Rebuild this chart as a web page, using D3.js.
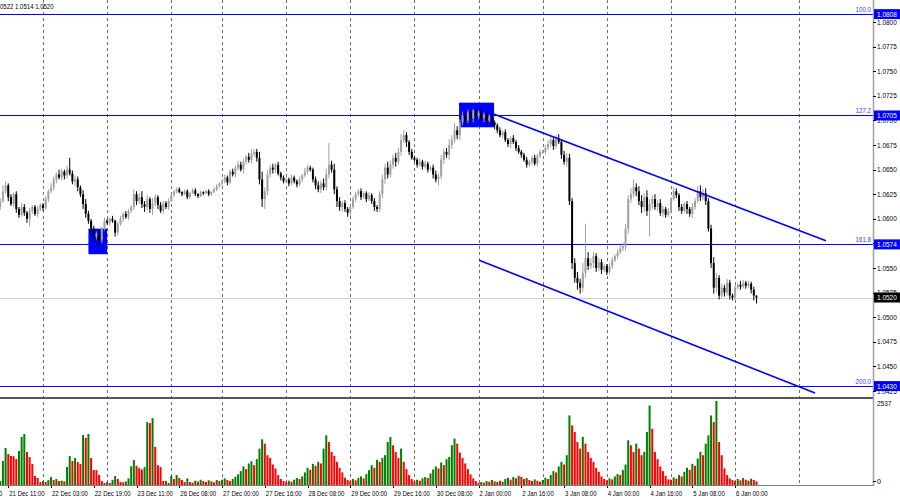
<!DOCTYPE html>
<html><head><meta charset="utf-8">
<script src="https://cdn.jsdelivr.net/npm/d3@7"></script>
<style>body{margin:0;background:#fff}svg{display:block}text{font-family:"Liberation Sans",Arial,sans-serif}</style>
</head><body><svg id="c" width="900" height="500"></svg>
<script>
// EURUSD H1, 21 Dec 08:00 -> 6 Jan 08:00 (bar index 0..283)
const closes = [
1.0618,1.0628,1.0634,1.0622,1.0615,1.0625,1.0610,1.0604,1.0612,1.0606,1.0600,1.0608,1.0612,1.0605,1.0610,1.0614,
1.0611,1.0620,1.0628,1.0632,1.0640,1.0645,1.0642,1.0648,1.0644,1.0650,1.0646,1.0638,1.0640,1.0632,1.0625,1.0615,1.0605,1.0598,1.0590,1.0582,1.0585,1.0578,1.0590,1.0598,
1.0596,1.0600,1.0598,1.0586,1.0595,1.0600,1.0605,1.0602,1.0608,1.0612,1.0625,1.0618,1.0622,1.0615,1.0612,1.0620,1.0610,1.0616,1.0622,1.0614,1.0608,1.0616,1.0612,1.0618,
1.0624,1.0628,1.0630,1.0627,1.0625,1.0628,1.0622,1.0626,1.0629,1.0625,1.0623,1.0627,1.0626,1.0628,1.0625,1.0627,1.0630,1.0633,1.0636,
1.0638,1.0642,1.0637,1.0648,1.0645,1.0652,1.0655,1.0650,1.0658,1.0663,1.0660,1.0666,1.0668,1.0662,1.0640,1.0620,1.0628,1.0645,1.0652,1.0650,1.0655,1.0646,1.0642,1.0638,
1.0640,1.0636,1.0642,1.0638,1.0635,1.0640,1.0644,1.0648,1.0652,1.0650,1.0640,1.0634,1.0630,1.0636,1.0632,1.0645,1.0655,1.0650,1.0630,1.0618,1.0612,1.0616,1.0610,1.0606,
1.0612,1.0620,1.0625,1.0628,1.0622,1.0626,1.0620,1.0624,1.0618,1.0612,1.0610,1.0625,1.0640,1.0652,1.0645,1.0655,1.0662,1.0658,1.0668,1.0680,1.0685,1.0678,1.0668,1.0662,
1.0660,1.0655,1.0658,1.0653,1.0656,1.0650,1.0652,1.0645,1.0640,1.0643,1.0660,1.0668,1.0665,1.0675,1.0680,1.0690,1.0685,1.0698,1.0705,1.0700,1.0708,1.0702,1.0710,1.0704,
1.0708,1.0702,1.0706,1.0700,1.0704,1.0698,1.0695,1.0690,1.0685,1.0688,1.0680,1.0676,1.0682,1.0678,1.0672,1.0668,1.0665,1.0660,1.0655,1.0658,1.0662,1.0656,1.0664,1.0668,
1.0668,1.0672,1.0676,1.0680,1.0674,1.0682,1.0678,1.0665,1.0658,1.0662,1.0618,1.0555,1.0540,1.0535,1.0530,1.0545,1.0560,1.0552,1.0555,1.0562,1.0550,1.0556,1.0548,1.0552,
1.0546,1.0552,1.0558,1.0562,1.0566,1.0570,1.0572,1.0590,1.0620,1.0625,1.0632,1.0628,1.0618,1.0612,1.0622,1.0608,1.0615,1.0620,1.0612,1.0616,1.0606,1.0610,1.0604,1.0608,
1.0620,1.0628,1.0624,1.0612,1.0608,1.0615,1.0610,1.0605,1.0612,1.0618,1.0628,1.0622,1.0626,1.0618,1.0590,1.0555,1.0530,1.0540,1.0522,1.0530,1.0525,1.0535,1.0522,1.0520,
1.0530,1.0533,1.0531,1.0535,1.0532,1.0534,1.0528,1.0522,1.0520];
const firstOpen = 1.0612;
// wick lengths in pips above / below the body
const wickUp = [
3,6,4,2,3,2,3,2,4,3,2,3,2,2,3,2,
2,3,2,4,3,2,5,3,2,4,12,3,4,3,2,4,5,3,2,3,2,4,2,3,
2,2,3,1,2,3,2,3,2,2,5,3,4,6,3,4,2,5,3,2,3,2,2,3,
2,1,2,2,1,2,2,1,2,2,1,2,1,2,2,1,2,2,1,
2,3,2,2,3,2,4,3,3,2,4,5,3,3,6,8,4,5,3,4,2,3,2,2,
2,2,3,2,2,3,2,4,3,2,2,3,4,3,5,6,22,4,6,3,4,2,3,2,
2,3,2,2,3,2,2,3,2,3,2,3,5,4,6,4,3,5,4,6,5,3,2,3,
2,2,3,2,3,2,2,3,4,3,5,3,4,6,5,7,4,3,4,3,3,2,2,3,
2,3,2,3,2,3,2,2,3,2,3,2,2,3,2,3,2,2,3,2,2,3,2,2,
2,3,4,3,2,3,4,3,4,5,4,3,5,6,4,10,35,6,5,4,3,4,3,2,
2,3,3,2,3,3,4,5,4,6,8,4,5,6,4,7,5,4,5,3,4,3,2,3,
2,4,3,2,3,2,3,2,4,3,5,6,4,5,3,4,6,5,3,4,3,4,3,2,
3,2,4,3,2,3,2,3,0];
const wickDn = [
3,2,3,4,2,3,4,3,2,3,4,8,3,2,3,2,
3,2,3,2,3,4,2,3,4,3,2,3,5,4,3,5,4,3,4,5,3,5,3,2,
2,3,2,4,3,2,3,2,3,2,3,4,3,4,5,3,4,6,3,4,2,3,2,3,
1,2,2,1,2,1,2,2,1,2,2,1,2,1,2,2,1,2,1,
2,2,3,2,2,3,3,2,4,3,3,4,3,4,5,8,10,4,3,4,3,2,3,2,
2,3,2,2,3,2,3,2,3,2,3,4,3,4,3,3,4,3,5,6,4,5,3,4,
3,2,3,2,3,2,3,2,3,4,3,3,4,5,4,3,4,5,3,4,3,5,3,2,
2,3,2,3,2,3,2,4,3,6,3,4,3,5,4,3,4,5,3,4,3,5,4,3,
3,2,4,3,2,3,4,3,2,3,2,3,4,2,3,2,3,2,3,2,3,2,3,2,
2,3,2,3,4,3,2,4,3,5,4,6,5,7,6,4,5,4,3,5,4,3,4,2,
3,2,3,2,3,2,3,4,5,4,3,5,4,6,5,5,26,5,3,4,3,4,3,2,
3,2,3,4,3,2,5,3,4,3,2,4,3,4,3,5,6,5,4,3,4,3,4,3,
3,2,3,2,3,2,4,5,6];
const volumes = [
120,725,1117,936,876,870,785,1027,1450,1540,997,845,634,272,211,90,
120,90,150,240,150,180,120,130,110,543,876,725,815,694,634,1510,1420,1540,815,453,450,302,120,60,
90,60,150,270,180,90,80,110,200,566,750,580,510,470,540,1900,1870,2020,1150,600,540,120,125,60,
280,180,300,210,150,90,200,90,70,130,100,160,120,90,140,110,80,150,120,
160,200,150,120,180,250,320,420,560,480,650,720,600,780,1100,1380,1250,900,820,620,500,300,180,120,
90,130,100,160,210,180,260,380,520,460,640,580,700,650,1100,1500,1300,1000,880,700,520,380,220,150,
120,180,140,210,260,200,330,450,600,520,760,700,820,900,1300,1450,1200,1000,820,1100,700,480,300,180,
110,160,130,200,240,210,350,470,560,500,680,600,780,850,1200,1400,1250,980,820,650,480,320,200,120,
60,90,70,120,100,150,110,90,130,100,180,220,160,240,200,280,250,180,210,150,120,170,130,100,
150,220,180,300,420,380,560,700,620,900,2100,1800,1600,1300,1100,1450,1250,1000,820,700,520,400,260,180,
140,200,170,260,330,300,450,620,1350,1200,1000,1250,1100,900,1000,1600,2400,1700,1000,780,560,420,280,170,
160,230,190,300,260,400,520,460,640,580,800,1000,900,1250,1500,2100,1900,2537,1300,900,500,300,200,150,
120,180,140,210,160,130,190,150,110];
const timeLabels = ["20 Dec 19:00","21 Dec 11:00","22 Dec 03:00","22 Dec 19:00","23 Dec 11:00","26 Dec 08:00","27 Dec 00:00","27 Dec 16:00","28 Dec 08:00","29 Dec 00:00","29 Dec 16:00","30 Dec 08:00","2 Jan 00:00","2 Jan 16:00","3 Jan 08:00","4 Jan 00:00","4 Jan 16:00","5 Jan 08:00","6 Jan 00:00"];
const timeLabelBars = [-13,3,19,35,51,67,83,99,115,131,147,163,179,195,211,227,243,259,275];
const dayStartBars = [16,40,64,83,107,131,155,179,203,227,251,275,299];
const priceTicks = [1.0800,1.0775,1.0750,1.0725,1.0700,1.0675,1.0650,1.0625,1.0600,1.0575,1.0550,1.0525,1.0500,1.0475,1.0450,1.0425];
const levelPrices = [1.0808,1.0705,1.0574,1.0430];
const levelNames = ["100.0","127.2","161.8","200.0"];
const lastPrice = 1.0520;
const volMax = 2537;
const boxBars = [[33,40],[171.7,184.8]];
const boxPrices = [[1.0564,1.0590],[1.0693,1.0718]];
const trendBars = [[184.4,309.0],[179.2,304.9]];
const trendPrices = [[1.07067,1.05776],[1.05579,1.04230]];
const headerText = "0522 1.0514 1.0520";

const svg = d3.select("#c");
const W = 873, mainBottom = 397, volTop = 400, volBottom = 485;
const x = d3.scaleLinear().domain([0, 326.6]).range([0.25, 873]);
const y = d3.scaleLinear().domain([1.0800, 1.0425]).range([22, 391]);
const yv = d3.scaleLinear().domain([0, volMax]).range([volBottom, 401]);
const BLUE = "#0000ff";
const FONT = "7.2px";

function narrow(sel, f){
  sel.each(function(){
    const w = this.getComputedTextLength();
    if (w > 0) { this.setAttribute("textLength", (w*f).toFixed(2)); this.setAttribute("lengthAdjust","spacingAndGlyphs"); }
  });
}

const defs = svg.append("defs");
defs.append("clipPath").attr("id","cm").append("rect").attr("x",0).attr("y",0).attr("width",W).attr("height",mainBottom);
defs.append("clipPath").attr("id","cv").append("rect").attr("x",0).attr("y",volTop).attr("width",W).attr("height",volBottom-volTop);
defs.append("clipPath").attr("id","ct").append("rect").attr("x",0).attr("y",486).attr("width",900).attr("height",14);

// grid
svg.append("g").selectAll("line").data(dayStartBars).join("line")
  .attr("x1",d=>Math.round(x(d))+0.5).attr("x2",d=>Math.round(x(d))+0.5)
  .attr("y1",0).attr("y2",volBottom)
  .attr("stroke","#6e6e6e").attr("stroke-width",1).attr("stroke-dasharray","3,3");

const gm = svg.append("g").attr("clip-path","url(#cm)");
// rectangles
gm.selectAll("rect.box").data(boxBars).join("rect").attr("class","box")
  .attr("x",(d)=>x(d[0])).attr("width",d=>x(d[1])-x(d[0]))
  .attr("y",(d,i)=>y(boxPrices[i][1])).attr("height",(d,i)=>y(boxPrices[i][0])-y(boxPrices[i][1]))
  .attr("fill",BLUE);
// current price line
gm.append("line").attr("x1",0).attr("x2",W).attr("y1",Math.round(y(lastPrice))+0.5).attr("y2",Math.round(y(lastPrice))+0.5)
  .attr("stroke","#d0d0d0").attr("stroke-width",1);
// levels
gm.selectAll("line.lv").data(levelPrices).join("line").attr("class","lv")
  .attr("x1",0).attr("x2",W).attr("y1",d=>Math.round(y(d))+0.5).attr("y2",d=>Math.round(y(d))+0.5)
  .attr("stroke",BLUE).attr("stroke-width",1.2);
const lvText = gm.selectAll("text.lv").data(levelPrices).join("text").attr("class","lv")
  .attr("x",871).attr("y",d=>y(d)-2).attr("text-anchor","end")
  .attr("font-size","7px").attr("fill","#3a3aff").text((d,i)=>levelNames[i]);

// candles
const opens = closes.map((c,i)=> i===0 ? firstOpen : closes[i-1]);
const candles = closes.map((c,i)=>{
  const o = opens[i];
  return {i, o, c, h: Math.max(o,c)+wickUp[i]*0.0001, l: Math.min(o,c)-wickDn[i]*0.0001, up: c>=o};
});
const gc = gm.append("g");
gc.selectAll("line").data(candles).join("line")
  .attr("x1",d=>x(d.i)).attr("x2",d=>x(d.i)).attr("y1",d=>y(d.h)).attr("y2",d=>y(d.l))
  .attr("stroke",d=>d.up?"#a0a0a0":"#000").attr("stroke-width",1);
gc.selectAll("rect").data(candles).join("rect")
  .attr("x",d=>x(d.i)-1).attr("width",2)
  .attr("y",d=>y(Math.max(d.o,d.c))).attr("height",d=>Math.max(1,y(Math.min(d.o,d.c))-y(Math.max(d.o,d.c))))
  .attr("fill",d=>d.up?"#a0a0a0":"#000");

// trend lines
gm.selectAll("line.tr").data(trendBars).join("line").attr("class","tr")
  .attr("x1",d=>x(d[0])).attr("x2",d=>x(d[1]))
  .attr("y1",(d,i)=>y(trendPrices[i][0])).attr("y2",(d,i)=>y(trendPrices[i][1]))
  .attr("stroke",BLUE).attr("stroke-width",1.6);

// separator between panels
svg.append("rect").attr("x",0).attr("y",mainBottom).attr("width",W).attr("height",2).attr("fill","#555");

// volumes
const gv = svg.append("g").attr("clip-path","url(#cv)");
gv.selectAll("rect").data(volumes).join("rect")
  .attr("x",(d,i)=>x(i)-1).attr("width",2)
  .attr("y",d=>yv(d)).attr("height",d=>volBottom-yv(d))
  .attr("fill",(d,i)=> (i===0 || d>volumes[i-1]) ? "#008000" : "#ff0000");

// axes frame
svg.append("line").attr("x1",0).attr("x2",W).attr("y1",volBottom+0.5).attr("y2",volBottom+0.5).attr("stroke","#808080");
svg.append("line").attr("x1",W+0.5).attr("x2",W+0.5).attr("y1",0).attr("y2",volBottom+1).attr("stroke","#a0a0a0").attr("stroke-width",1.5);

// price axis
const ga = svg.append("g");
ga.selectAll("line").data(priceTicks).join("line")
  .attr("x1",W).attr("x2",W+3).attr("y1",d=>Math.round(y(d))+0.5).attr("y2",d=>Math.round(y(d))+0.5).attr("stroke","#000");
const tickText = ga.selectAll("text").data(priceTicks).join("text")
  .attr("x",W+4).attr("y",d=>y(d)+2.5).attr("font-size",FONT).attr("fill","#000")
  .text(d=>d.toFixed(4));
// highlighted price boxes
const hl = levelPrices.map((p,i)=>({p, bg:BLUE}));
hl.push({p:lastPrice, bg:"#000"});
const gh = svg.append("g");
gh.selectAll("rect").data(hl).join("rect")
  .attr("x",W+1).attr("width",900-W-1).attr("y",d=>y(d.p)-5).attr("height",10).attr("fill",d=>d.bg);
const hlText = gh.selectAll("text").data(hl).join("text")
  .attr("x",W+4).attr("y",d=>y(d.p)+2.5).attr("font-size",FONT).attr("fill","#fff")
  .text(d=>d.p.toFixed(4));

// volume axis
const vmaxText = svg.append("text").attr("x",W+4).attr("y",yv(volMax)+5).attr("font-size",FONT).text(String(volMax));
svg.append("text").attr("x",W+4).attr("y",yv(0)-1).attr("font-size",FONT).text("0");
svg.append("line").attr("x1",W).attr("x2",W+3).attr("y1",yv(0)-3.5).attr("y2",yv(0)-3.5).attr("stroke","#000");

// time axis
const gt = svg.append("g").attr("clip-path","url(#ct)");
gt.selectAll("line").data(timeLabelBars).join("line")
  .attr("x1",d=>Math.round(x(d))+0.5).attr("x2",d=>Math.round(x(d))+0.5).attr("y1",volBottom).attr("y2",volBottom+3).attr("stroke","#000");
const timeText = gt.selectAll("text").data(timeLabelBars).join("text")
  .attr("x",d=>x(d)+1).attr("y",496).attr("font-size","7px").attr("fill","#000")
  .text((d,i)=>timeLabels[i]);

// header
const hdr = svg.append("text").attr("x",0).attr("y",9).attr("font-size","7px").attr("fill","#000").text(headerText);

narrow(tickText, 0.9); narrow(hlText, 0.9); narrow(vmaxText, 0.9);
narrow(timeText, 0.86); narrow(hdr, 0.86); narrow(lvText, 0.88);
</script></body></html>
